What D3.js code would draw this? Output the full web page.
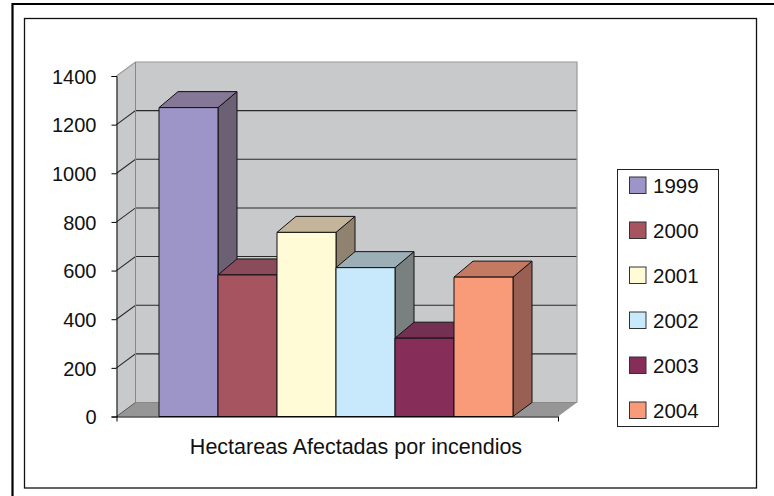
<!DOCTYPE html>
<html>
<head>
<meta charset="utf-8">
<script src="https://cdn.jsdelivr.net/npm/d3@7"></script>
<style>
html, body { margin: 0; padding: 0; background: #fff; }
svg { display: block; }
text { font-family: "Liberation Sans", Arial, sans-serif; fill: #111; }
</style>
</head>
<body>
<script>
var years = ["1999", "2000", "2001", "2002", "2003", "2004"];
var hectares = [1270, 582, 757, 612, 322, 573];
var yTicks = [0, 200, 400, 600, 800, 1000, 1200, 1400];
var chartTitle = "Hectareas Afectadas por incendios";

var frontColors = ["#9d94c7", "#a65460", "#fffbd6", "#c7e9fb", "#862d59", "#f99a78"];
var topColors = ["#847896", "#8a4c5a", "#c4b59a", "#9cafb6", "#743052", "#c47a62"];
var sideColors = ["#6c6074", "#6e3a44", "#8f8370", "#7a8080", "#5e2340", "#985f52"];

var width = 774, height = 496;
var depthX = 19, depthY = 14, barDepthY = 16;

var svg = d3.select("body").append("svg")
	.attr("width", width)
	.attr("height", height)
;

// thick outer line only runs along the top and left, to the picture's edge
svg.append("path")
	.attr("d", "M" + width + ",4V4H12.5V" + height)
	.style("fill", "none").style("stroke", "#000").style("stroke-width", 2.2)
;
svg.append("rect")
	.attr("x", 24.5).attr("y", 18.5)
	.attr("width", 732).attr("height", 469.5)
	.style("fill", "#fff").style("stroke", "#111").style("stroke-width", 1.3)
;

var y = d3.scaleLinear().domain([0, 1400]).range([416.5, 76]);
var xAxisScale = d3.scaleLinear().domain([0, 1]).range([116.5, 558]);
var x = d3.scaleBand().domain(years).range([159, 513]);

var x0 = xAxisScale(0), x1 = xAxisScale(1);

function poly(pts) {
	return pts.map(function(p) { return p.join(","); }).join(" ");
}

// walls and floor
svg.append("polygon")
	.attr("points", poly([[x0, y(0)], [x0 + depthX, y(0) - depthY], [x0 + depthX, y(1400) - depthY], [x0, y(1400)]]))
	.style("fill", "#c8c9cb")
;
svg.append("rect")
	.attr("x", x0 + depthX).attr("y", y(1400) - depthY)
	.attr("width", x1 - x0).attr("height", y(0) - y(1400))
	.style("fill", "#c8c9cb")
;
svg.append("polygon")
	.attr("points", poly([[x0, y(0)], [x0 + depthX, y(0) - depthY], [x1 + depthX, y(0) - depthY], [x1, y(0)]]))
	.style("fill", "#969696")
;

// grid lines, side wall and back wall
svg.append("g").selectAll("path")
	.data(yTicks.slice(1, -1))
	.enter().append("path")
		.attr("d", function(d) {
			return "M" + x0 + "," + y(d) + "L" + (x0 + depthX) + "," + (y(d) - depthY) + "H" + (x1 + depthX);
		})
		.style("fill", "none")
		.style("stroke", "#2a2a2a")
		.style("stroke-width", 1.1)
;
svg.append("path")
	.attr("d", "M" + x0 + "," + y(1400) + "L" + (x0 + depthX) + "," + (y(1400) - depthY) + "H" + (x1 + depthX) + "V" + (y(0) - depthY))
	.style("fill", "none").style("stroke", "#999").style("stroke-width", 1.2)
;
svg.append("path")
	.attr("d", "M" + (x0 + depthX) + "," + (y(1400) - depthY) + "V" + (y(0) - depthY) + "H" + (x1 + depthX))
	.style("fill", "none").style("stroke", "#888").style("stroke-width", 1)
;
svg.append("path")
	.attr("d", "M" + x0 + "," + y(0) + "L" + (x0 + depthX) + "," + (y(0) - depthY))
	.style("fill", "none").style("stroke", "#555")
;

// bars, left to right so neighbours overlap correctly
var bars = svg.selectAll("g.bar")
	.data(years)
	.enter().append("g").attr("class", "bar")
;
bars.append("polygon")
	.attr("points", function(d, i) {
		var r = x(d) + x.bandwidth(), t = y(hectares[i]);
		return poly([[r, y(0)], [r + depthX, y(0) - depthY], [r + depthX, t - barDepthY], [r, t]]);
	})
	.style("fill", function(d, i) { return sideColors[i]; })
;
bars.append("polygon")
	.attr("points", function(d, i) {
		var l = x(d), r = l + x.bandwidth(), t = y(hectares[i]);
		return poly([[l, t], [l + depthX, t - barDepthY], [r + depthX, t - barDepthY], [r, t]]);
	})
	.style("fill", function(d, i) { return topColors[i]; })
;
bars.append("rect")
	.attr("x", function(d) { return x(d); })
	.attr("y", function(d, i) { return y(hectares[i]); })
	.attr("width", x.bandwidth())
	.attr("height", function(d, i) { return y(0) - y(hectares[i]); })
	.style("fill", function(d, i) { return frontColors[i]; })
;
bars.selectAll("rect, polygon")
	.style("stroke", "#111")
	.style("stroke-width", 1)
	.style("stroke-linejoin", "round")
;

// axes
var yAxis = d3.axisLeft(y).tickValues(yTicks).tickSize(5).tickPadding(15).tickFormat(d3.format("d"));
var yG = svg.append("g").attr("transform", "translate(" + x0 + ",0)").call(yAxis);
yG.selectAll("text").style("font-size", "20px").attr("dy", "0.36em");
yG.select(".domain").style("stroke", "#000");

var xAxis = d3.axisBottom(xAxisScale).tickValues([0, 1]).tickSize(5).tickSizeOuter(0).tickFormat("");
var xG = svg.append("g").attr("transform", "translate(0," + y(0) + ")").call(xAxis);
xG.select(".domain").style("stroke", "#000");

svg.append("text")
	.attr("x", 356)
	.attr("y", 453.5)
	.attr("text-anchor", "middle")
	.style("font-size", "21.5px")
	.text(chartTitle)
;

// legend
svg.append("rect")
	.attr("x", 617.5).attr("y", 169.5)
	.attr("width", 101).attr("height", 257)
	.style("fill", "#fff").style("stroke", "#222").style("stroke-width", 1)
;
var legendY = d3.scalePoint().domain(years).range([185.5, 410.5]);
var legend = svg.selectAll("g.legend")
	.data(years)
	.enter().append("g").attr("class", "legend")
		.attr("transform", function(d) { return "translate(0," + legendY(d) + ")"; })
;
legend.append("rect")
	.attr("x", 629.5).attr("y", -8.5)
	.attr("width", 16.5).attr("height", 16.5)
	.style("fill", function(d, i) { return frontColors[i]; })
	.style("stroke", "#333")
;
legend.append("text")
	.attr("x", 653)
	.attr("y", 7)
	.style("font-size", "20.5px")
	.text(function(d) { return d; })
;
</script>
</body>
</html>
